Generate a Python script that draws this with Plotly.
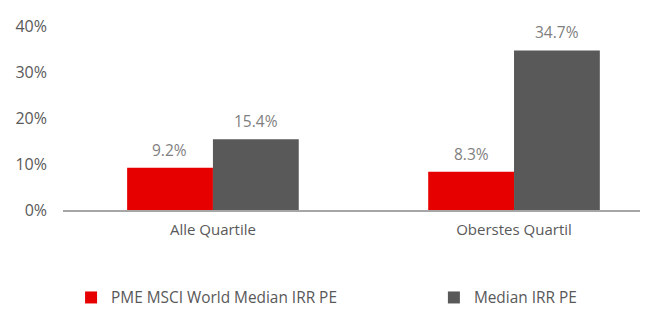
import plotly.graph_objects as go

categories = ["Alle Quartile", "Oberstes Quartil"]
pme_values = [9.2, 8.3]
irr_values = [15.4, 34.7]
series_names = ["PME MSCI World Median IRR PE", "Median IRR PE"]
y_ticks = [0, 10, 20, 30, 40]
y_ticklabels = ["0%", "10%", "20%", "30%", "40%"]

FONT = "Open Sans"
fig = go.Figure()
fig.add_trace(go.Bar(
    x=categories, y=pme_values, name=series_names[0],
    marker=dict(color="#E60000", line=dict(width=0)),
    legend="legend",
))
fig.add_trace(go.Bar(
    x=categories, y=irr_values, name=series_names[1],
    marker=dict(color="#595959", line=dict(width=0)),
    legend="legend2",
))

# value labels above bars (offset to each bar of the group)
BAR_HALF_PX = 43
for vals, dx in ((pme_values, -BAR_HALF_PX), (irr_values, BAR_HALF_PX)):
    for c, v in zip(categories, vals):
        fig.add_annotation(
            x=c, y=v, xref="x", yref="y", text=f"{v:.1f}%",
            showarrow=False, xanchor="center", yanchor="bottom",
            xshift=dx, yshift=5,
            font=dict(family=FONT, size=15.5, color="#7F7F7F"),
        )

leg_common = dict(
    orientation="h", xanchor="left", y=-0.478, yanchor="middle",
    font=dict(family=FONT, size=15.4, color="#595959"),
    itemclick=False, itemdoubleclick=False, bgcolor="rgba(0,0,0,0)",
)

fig.update_layout(
    width=640, height=303,
    margin=dict(l=55, r=0, t=18, b=101, autoexpand=False),
    paper_bgcolor="white", plot_bgcolor="white",
    barmode="group", bargap=0.43, bargroupgap=0,
    font=dict(family=FONT, size=15, color="#595959"),
    showlegend=True,
    legend=dict(x=0.0138, **leg_common),
    legend2=dict(x=0.634, **leg_common),
    xaxis=dict(
        range=[-0.498, 1.445], showgrid=False, showline=True,
        linecolor="#A6A6A6", linewidth=1.5, ticks="", automargin=False,
        ticklabelstandoff=5,
        tickfont=dict(family=FONT, size=15, color="#595959"),
    ),
    yaxis=dict(
        range=[0, 40], tickvals=y_ticks, ticktext=y_ticklabels,
        showgrid=False, zeroline=False, showline=False, ticks="",
        automargin=False, ticklabelstandoff=15,
        tickfont=dict(family=FONT, size=16, color="#595959"),
    ),
)

fig.write_html("out.html")
